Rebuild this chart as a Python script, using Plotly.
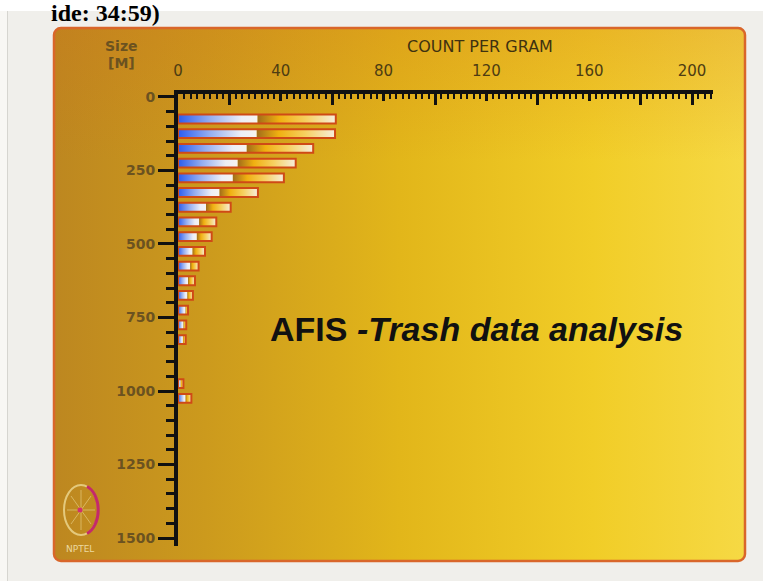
import base64
import plotly.graph_objects as go

# ---------------- data ----------------
size_m = [75, 125, 175, 225, 275, 325, 375, 425, 475, 525, 575,
          625, 675, 725, 775, 825, 975, 1025]
count_total = [61.4, 61.1, 52.6, 45.8, 41.2, 31.1, 20.5, 14.9, 13.1, 10.5, 8.0,
               6.6, 5.8, 3.9, 3.2, 3.0, 2.1, 5.2]
count_blue = [30.9, 30.6, 26.7, 23.2, 21.3, 16.1, 10.9, 8.2, 7.3, 5.6, 4.7,
              3.9, 3.6, 2.9, 2.1, 1.9, 1.0, 2.9]
count_orange = [round(t - b, 2) for t, b in zip(count_total, count_blue)]

x_tick_vals = [0, 40, 80, 120, 160, 200]
x_tick_text = ["0", "40", "80", "120", "160", "200"]
x_long_tick_vals = [20, 60, 100, 140, 180, 200]
y_tick_vals = [0, 250, 500, 750, 1000, 1250, 1500]
y_tick_text = ["0", "250", "500", "750", "1000", "1250", "1500"]

title_text = "AFIS <i>-Trash data analysis</i>"
x_title = "COUNT PER GRAM"
y_title_1 = "Size"
y_title_2 = "[M]"

# ---------------- geometry ----------------
W, H = 763, 581
ML, MR, MT, MB = 178, 50, 94, 35
PW, PH = W - ML - MR, H - MT - MB
X_MAX = PW / 2.57


def P(xp, yp):
    return (xp - ML) / PW, 1 - (yp - MT) / PH


AX = "#111111"
LBL = "#6b5220"
OUTLINE = "#cf4a16"
ORANGE = "rgb(242, 178, 16)"
BLUE = "rgb(169, 189, 242)"

# background slide (decoration only)
bg_svg = f'''<svg xmlns="http://www.w3.org/2000/svg" width="{W}" height="{H}" viewBox="0 0 {W} {H}">
<defs>
<linearGradient id="p" x1="0" y1="0" x2="1" y2="0">
<stop offset="0" stop-color="#bd8720"/>
<stop offset="0.22" stop-color="#cc9a1d"/>
<stop offset="0.5" stop-color="#e2b61a"/>
<stop offset="0.78" stop-color="#f1cd27"/>
<stop offset="1" stop-color="#f6d944"/>
</linearGradient>
<linearGradient id="v" x1="0" y1="0" x2="0" y2="1">
<stop offset="0" stop-color="#d0701a" stop-opacity="0.25"/>
<stop offset="0.25" stop-color="#d0701a" stop-opacity="0"/>
<stop offset="1" stop-color="#d0701a" stop-opacity="0"/>
</linearGradient>
</defs>
<rect x="0" y="0" width="{W}" height="{H}" fill="#f0efeb"/>
<rect x="0" y="0" width="{W}" height="11" fill="#ffffff"/>
<rect x="0" y="11" width="7" height="{H}" fill="#f8f7f4"/>
<line x1="7.5" y1="11" x2="7.5" y2="{H}" stroke="#d6d5d0" stroke-width="1"/>
<rect x="54" y="28" width="691" height="533" rx="7" fill="url(#p)"/>
<rect x="54" y="28" width="691" height="533" rx="7" fill="url(#v)" stroke="#d9662a" stroke-width="2.5"/>
<g stroke="#e6cf86" stroke-width="0.8" opacity="0.8">
<line x1="81" y1="490" x2="81" y2="530"/><line x1="67" y1="510" x2="95" y2="510"/>
<line x1="71" y1="496" x2="91" y2="524"/><line x1="71" y1="524" x2="91" y2="496"/>
</g>
<ellipse cx="81" cy="510" rx="17" ry="25" fill="none" stroke="#e4c97c" stroke-width="2"/>
<path d="M 87 486.5 A 17 25 0 0 1 87 533.5" fill="none" stroke="#c42a6a" stroke-width="3"/>
<circle cx="80" cy="510" r="2.5" fill="#d0306e"/>
</svg>'''
bg_uri = "data:image/svg+xml;base64," + base64.b64encode(bg_svg.encode()).decode()

fig = go.Figure()
fig.add_trace(go.Bar(
    y=size_m, x=count_orange, base=count_blue, orientation="h", width=30,
    marker=dict(color=ORANGE, line=dict(width=0)), showlegend=False,
    hoverinfo="skip"))
fig.add_trace(go.Bar(
    y=size_m, x=count_blue, orientation="h", width=30,
    marker=dict(color=BLUE, line=dict(width=0)), showlegend=False,
    hoverinfo="skip"))
fig.add_trace(go.Bar(
    y=size_m, x=count_total, orientation="h", width=30, xaxis="x2",
    marker=dict(color="rgba(0,0,0,0)", line=dict(width=2, color=OUTLINE)),
    showlegend=False, hoverinfo="skip"))

ytickfont = dict(family="DejaVu Sans", size=14, color=LBL, weight="bold")
xtickfont = dict(family="DejaVu Sans", size=15, color="#4d3c12")

fig.update_layout(
    width=W, height=H,
    margin=dict(l=ML, r=MR, t=MT, b=MB, pad=0),
    paper_bgcolor="#f0efeb",
    plot_bgcolor="rgba(0,0,0,0)",
    barmode="overlay",
    showlegend=False,
    xaxis=dict(
        range=[0, X_MAX], side="top", showgrid=False, zeroline=False,
        showline=True, linecolor=AX, linewidth=4,
        tickmode="array", tickvals=x_tick_vals, ticktext=x_tick_text,
        ticks="inside", ticklen=7, tickwidth=2.5, tickcolor=AX,
        tickfont=xtickfont, ticklabelstandoff=8,
        minor=dict(tickmode="linear", tick0=0, dtick=2.5, ticks="inside",
                   ticklen=5, tickwidth=2, tickcolor=AX, showgrid=False),
        fixedrange=True,
    ),
    xaxis2=dict(
        range=[0, X_MAX], matches="x", overlaying="x", side="top", anchor="y",
        showgrid=False, zeroline=False, showline=False,
        tickmode="array", tickvals=x_long_tick_vals, showticklabels=False,
        ticks="inside", ticklen=11, tickwidth=2.5, tickcolor=AX,
        fixedrange=True,
    ),
    yaxis=dict(
        range=[1527, -10], showgrid=False, zeroline=False,
        showline=True, linecolor=AX, linewidth=4,
        tickmode="array", tickvals=y_tick_vals, ticktext=y_tick_text,
        ticks="outside", ticklen=16, tickwidth=2.5, tickcolor=AX,
        tickfont=ytickfont,
        minor=dict(tickmode="linear", tick0=0, dtick=50, ticks="outside",
                   ticklen=8, tickwidth=2.5, tickcolor=AX, showgrid=False),
        fixedrange=True,
    ),
    images=[dict(source=bg_uri, xref="paper", yref="paper",
                 x=-ML / PW, y=1 + MT / PH, sizex=W / PW, sizey=H / PH,
                 xanchor="left", yanchor="top", sizing="stretch",
                 layer="below")],
)

ann = []
x, y = P(121, 46)
ann.append(dict(text=y_title_1, x=x, y=y, font=ytickfont))
x, y = P(121, 63)
ann.append(dict(text=y_title_2, x=x, y=y, font=ytickfont))
x, y = P(480, 46)
ann.append(dict(text=x_title, x=x, y=y,
                font=dict(family="DejaVu Sans", size=16, color="#3f3210")))
x, y = P(476, 329)
ann.append(dict(text="<b>" + title_text + "</b>", x=x, y=y,
                font=dict(family="Liberation Sans", size=34, color="#111111")))
x, y = P(80, 549)
ann.append(dict(text="NPTEL", x=x, y=y,
                font=dict(family="DejaVu Sans", size=9, color="#ecd9a0")))
x, y = P(162, -2)
ann.append(dict(text="<b>ide: 34:59)</b>", x=x, y=y, xanchor="right",
                yanchor="top",
                font=dict(family="Liberation Serif", size=24, color="#000000")))
for a in ann:
    a.setdefault("xanchor", "center")
    a.setdefault("yanchor", "middle")
    a.update(xref="paper", yref="paper", showarrow=False)
fig.update_layout(annotations=ann)

post = """
document.body.style.margin = '0';
document.body.style.padding = '0';
var gd = document.getElementById('{plot_id}');
function addGrad(){
  var svg = gd.querySelector('svg.main-svg');
  if(!svg) return;
  var defs = svg.querySelector('defs');
  var ns = 'http://www.w3.org/2000/svg';
  function mk(id, stops){
    if(document.getElementById(id)) return;
    var g = document.createElementNS(ns, 'linearGradient');
    g.setAttribute('id', id);
    g.setAttribute('x1','0'); g.setAttribute('y1','0');
    g.setAttribute('x2','1'); g.setAttribute('y2','0');
    stops.forEach(function(s){
      var st = document.createElementNS(ns, 'stop');
      st.setAttribute('offset', s[0]);
      st.setAttribute('stop-color', s[1]);
      g.appendChild(st);
    });
    defs.appendChild(g);
  }
  mk('gradBlue', [[0,'#2a5cf0'],[0.4,'#93adf0'],[0.8,'#eceef6'],[1,'#f6f4f0']]);
  mk('gradOrange', [[0,'#a06c1a'],[0.28,'#f0b010'],[0.62,'#f6d060'],[1,'#f6eedc']]);
  gd.querySelectorAll('.barlayer .point path').forEach(function(p){
    var f = p.style.fill;
    if (f === 'rgb(242, 178, 16)') p.style.fill = 'url(#gradOrange)';
    else if (f === 'rgb(169, 189, 242)') p.style.fill = 'url(#gradBlue)';
  });
}
addGrad();
gd.on('plotly_afterplot', addGrad);
"""

fig.write_html("out.html", post_script=post, config={"displayModeBar": False})
